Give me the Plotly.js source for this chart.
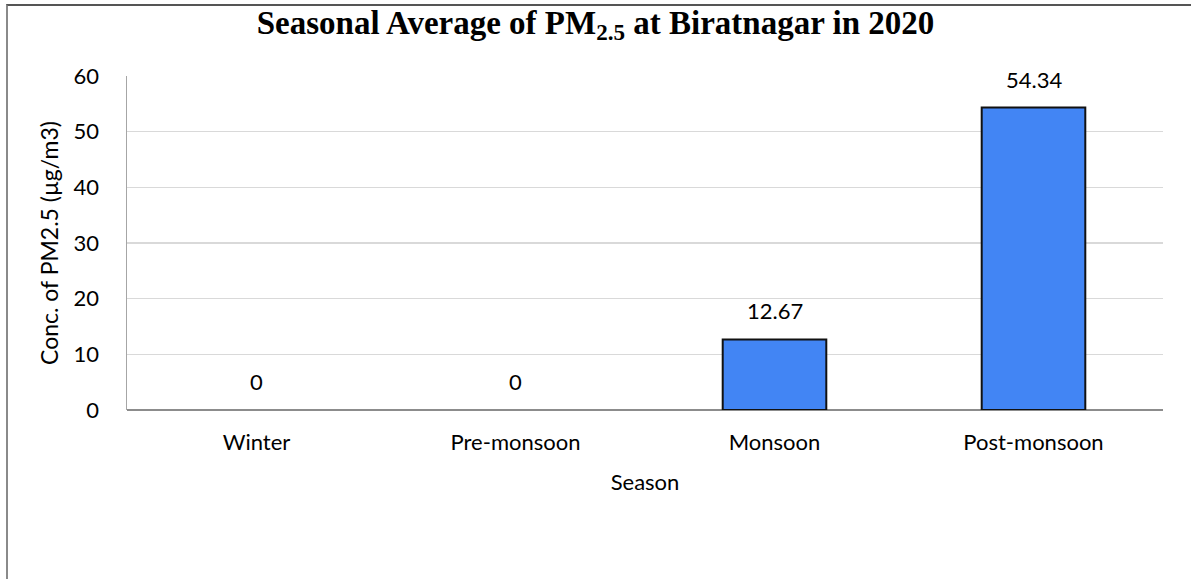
<!DOCTYPE html>
<html>
<head>
<meta charset="utf-8">
<script src="https://cdn.plot.ly/plotly-3.0.1.min.js"></script>
<style>
  html, body { margin: 0; padding: 0; background: #fff; }
  #wrap { position: relative; width: 1191px; height: 579px; overflow: hidden; }
  #chart { position: absolute; left: 0; top: 0; width: 1191px; height: 579px; }
  #frame { position: absolute; left: 6px; top: 4px; right: -4px; bottom: -4px;
           border-top: 2px solid #555555; border-left: 2px solid #8a8a8a; pointer-events: none; }
</style>
</head>
<body>
<div id="wrap">
  <div id="chart"></div>
  <div id="frame"></div>
</div>
<script>
const seasons = ["Winter", "Pre-monsoon", "Monsoon", "Post-monsoon"];
const pm25 = [0, 0, 12.67, 54.34];
const labels = ["0", "0", "12.67", "54.34"];
const yTicks = [0, 10, 20, 30, 40, 50, 60];

const fam = "Lato, 'Open Sans', sans-serif";
const labelFont = { family: fam, size: 22, color: "#000" };

const trace = {
  type: "bar",
  x: seasons,
  y: pm25,
  marker: {
    color: "#4285F4",
    line: { color: "#111111", width: pm25.map(v => (v > 0 ? 2 : 0)) }
  },
  hoverinfo: "x+y"
};

const annotations = seasons.map((s, i) => ({
  x: s, y: pm25[i], xref: "x", yref: "y",
  text: labels[i], showarrow: false,
  yanchor: "bottom", yshift: 13,
  font: labelFont
}));

const layout = {
  width: 1191, height: 579,
  margin: { l: 127, r: 28, t: 76, b: 169 },
  paper_bgcolor: "#ffffff", plot_bgcolor: "#ffffff",
  bargap: 0.6,
  showlegend: false,
  title: {
    text: "Seasonal Average of PM<sub>2.5</sub> at Biratnagar in 2020",
    font: { family: "'Liberation Serif', 'DejaVu Serif', serif", size: 33, color: "#000", weight: "bold" },
    x: 0.5, xanchor: "center", xref: "container",
    y: 0.962, yanchor: "middle", yref: "container"
  },
  xaxis: {
    type: "category",
    showgrid: false,
    showline: false,
    zeroline: false,
    ticks: "",
    tickfont: labelFont,
    ticklabelstandoff: 17,
    title: { text: "Season", font: labelFont, standoff: 20 }
  },
  yaxis: {
    range: [0, 60],
    tickvals: yTicks,
    ticktext: yTicks.map(String),
    showgrid: true,
    gridcolor: "#d9d9d9",
    gridwidth: 1.5,
    zeroline: true,
    zerolinecolor: "#8c8c8c",
    zerolinewidth: 2,
    showline: true,
    linecolor: "#a6a6a6",
    linewidth: 1.5,
    ticks: "",
    tickfont: labelFont,
    ticklabelstandoff: 22,
    title: { text: "Conc. of PM2.5 (µg/m3)", font: { family: fam, size: 23, color: "#000" }, standoff: 8 }
  },
  annotations: annotations
};

Plotly.newPlot("chart", [trace], layout, { displayModeBar: false, staticPlot: true });
</script>
</body>
</html>
